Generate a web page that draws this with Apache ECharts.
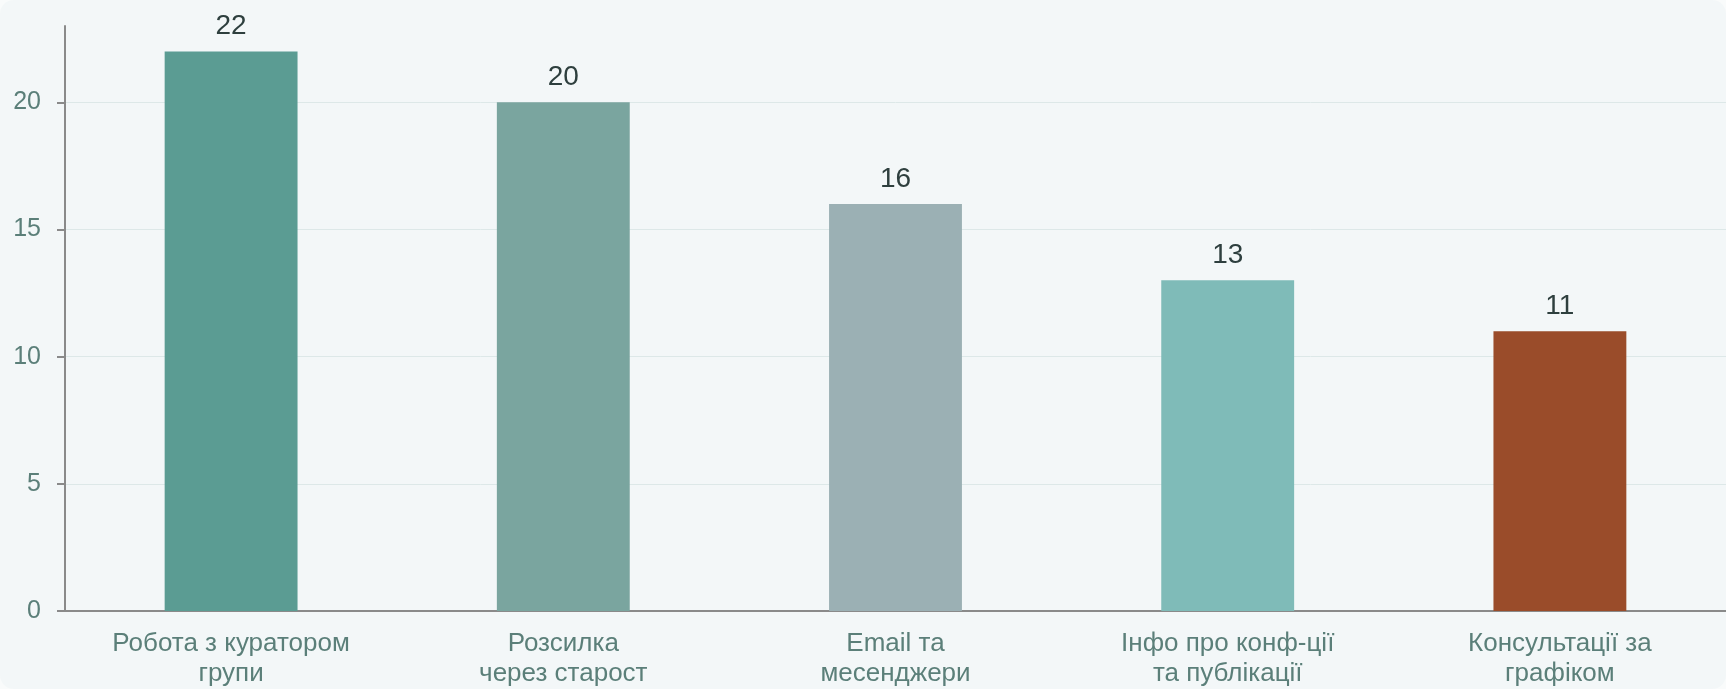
<!DOCTYPE html>
<html>
<head>
<meta charset="utf-8">
<script src="https://cdn.jsdelivr.net/npm/echarts@6/dist/echarts.min.js"></script>
<style>
  html, body { margin: 0; padding: 0; background: #f9fbfb; }
  #chart { width: 1726px; height: 689px; background: #f3f7f8; border-radius: 14px; overflow: hidden; }
</style>
</head>
<body>
<div id="chart"></div>
<script>
const categories = [
  'Робота з куратором\nгрупи',
  'Розсилка\nчерез старост',
  'Email та\nмесенджери',
  'Інфо про конф-ції\nта публікації',
  'Консультації за\nграфіком'
]
const values = [22, 20, 16, 13, 11]
const barColors = ['#5b9c93', '#7aa59f', '#9bb0b4', '#7fbbb8', '#9a4c2a']
const yTicks = [0, 5, 10, 15, 20]

const myChart = echarts.init(document.getElementById('chart'))
myChart.setOption({
  animation: false,
  textStyle: { fontFamily: '"Liberation Sans", Arial, sans-serif' },
  grid: { left: 65, top: 26, width: 1667, height: 586 },
  xAxis: {
    type: 'category',
    data: categories,
    axisLine: { lineStyle: { color: '#8a8a8a', width: 2 } },
    axisTick: { length: 8, lineStyle: { color: '#8a8a8a', width: 2 } },
    axisLabel: {
      color: '#5b7f79',
      fontSize: 26,
      lineHeight: 30,
      margin: 18,
      interval: 0
    }
  },
  yAxis: {
    type: 'value',
    min: yTicks[0],
    max: 23,
    interval: yTicks[1] - yTicks[0],
    axisLine: { show: true, lineStyle: { color: '#8a8a8a', width: 2 } },
    axisTick: { show: true, length: 8, customValues: yTicks, lineStyle: { color: '#8a8a8a', width: 2 } },
    axisLabel: {
      color: '#5b7f79',
      fontSize: 25,
      margin: 24,
      customValues: yTicks
    },
    splitLine: { lineStyle: { color: '#dde8e8', width: 1 } }
  },
  series: [
    {
      type: 'bar',
      barWidth: '40%',
      data: values.map((v, i) => ({ value: v, itemStyle: { color: barColors[i] } })),
      label: {
        show: true,
        position: 'top',
        distance: 11,
        color: '#2e3f3e',
        fontSize: 28
      }
    }
  ]
})
</script>
</body>
</html>
